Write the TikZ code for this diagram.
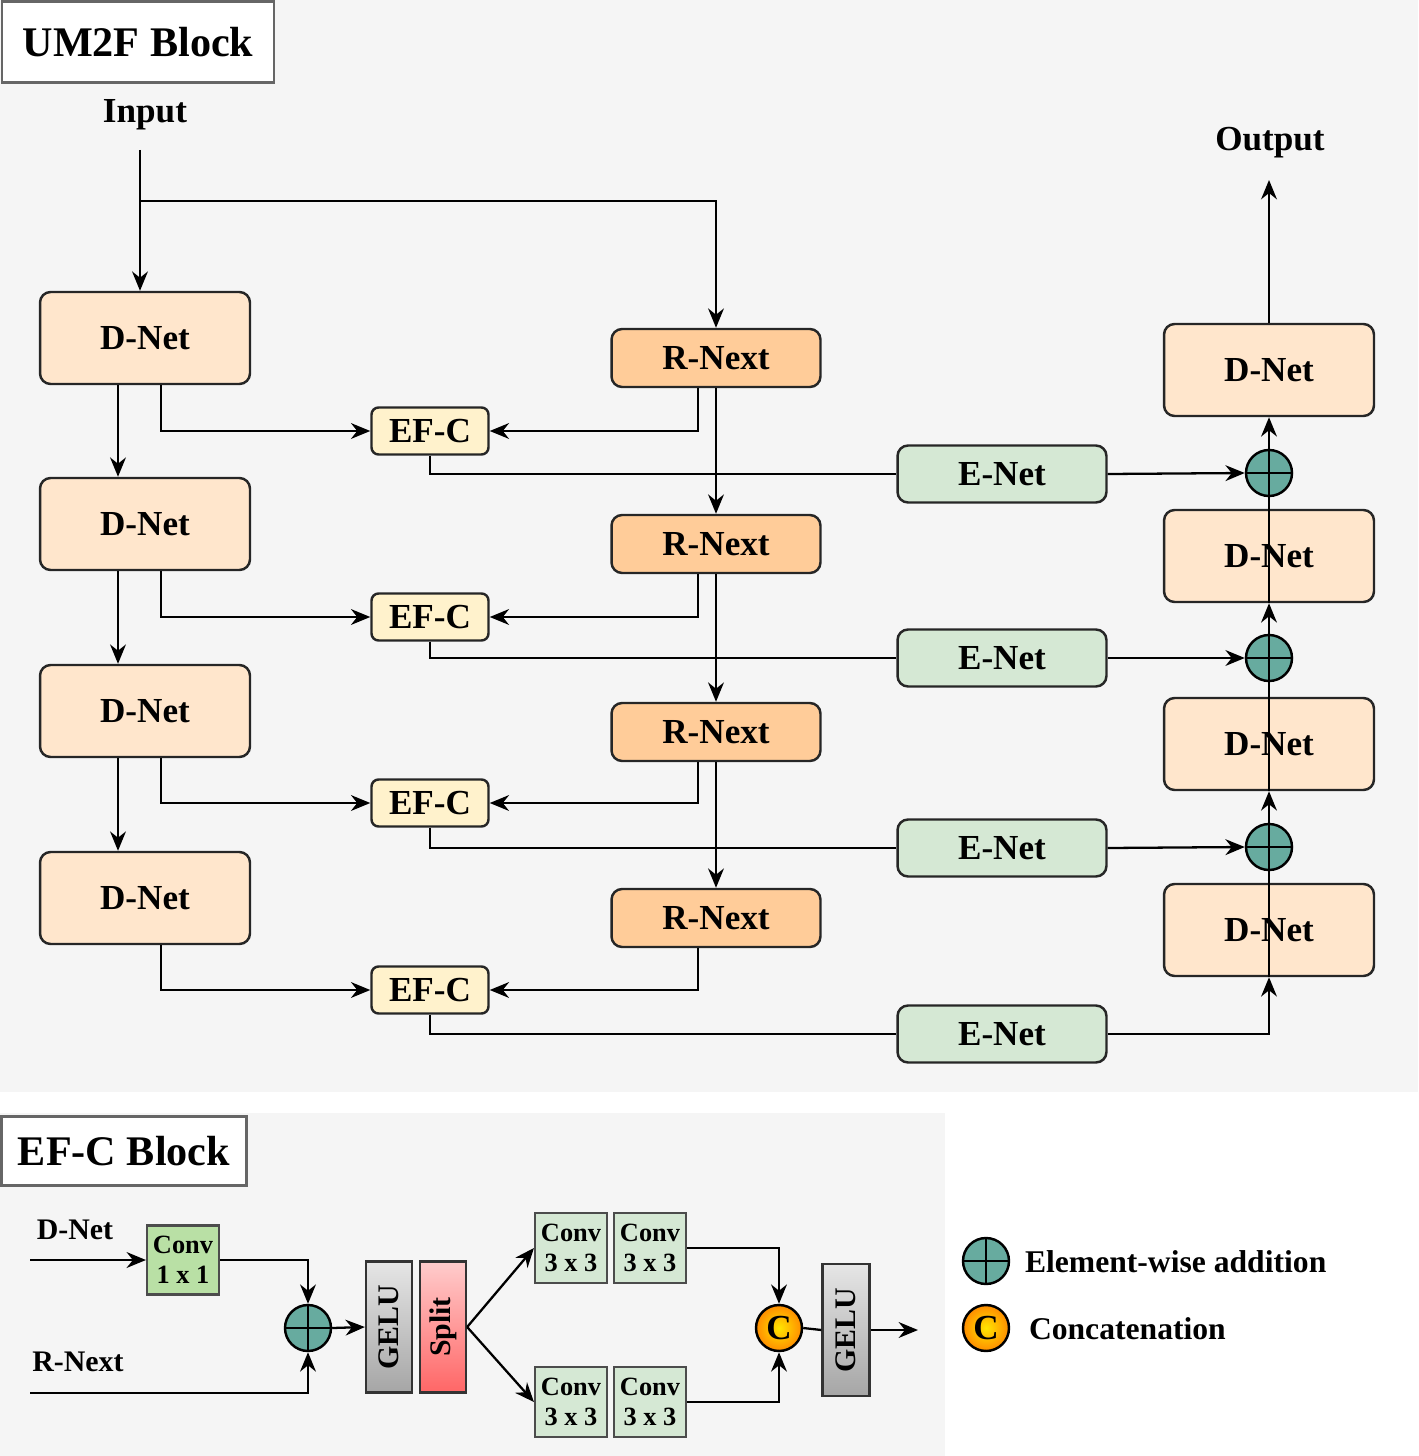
\documentclass[tikz,border=0pt]{standalone}
\usepackage{fontspec}
\setmainfont{Liberation Serif}
\usetikzlibrary{arrows.meta}
\definecolor{dnet}{HTML}{FFE6CC}
\definecolor{rnext}{HTML}{FFCC99}
\definecolor{efc}{HTML}{FFF2CC}
\definecolor{enet}{HTML}{D5E8D4}
\definecolor{plusc}{HTML}{67AB9F}
\definecolor{bg}{HTML}{F5F5F5}
\definecolor{conv1}{HTML}{B9E0A5}
\begin{document}
\begin{tikzpicture}[x=0.02cm,y=-0.02cm,
 line width=1.3pt, >={Stealth[length=11pt,width=9pt]},
 box/.style={draw=black!85,rounded corners=6pt,line width=1.4pt,font=\fontsize{20}{24}\selectfont\bfseries,inner sep=0pt},
 dn/.style={box,fill=dnet,minimum width=4.2cm,minimum height=1.84cm},
 rn/.style={box,fill=rnext,minimum width=4.18cm,minimum height=1.16cm},
 ef/.style={box,fill=efc,rounded corners=4pt,minimum width=2.34cm,minimum height=0.94cm},
 en/.style={box,fill=enet,minimum width=4.18cm,minimum height=1.14cm},
 pl/.style={circle,draw=black,fill=plusc,line width=1.4pt,minimum size=0.92cm,inner sep=0pt,path picture={\draw[line width=1.4pt] (path picture bounding box.north)--(path picture bounding box.south) (path picture bounding box.west)--(path picture bounding box.east);}},
 cc/.style={circle,draw=black,inner color=yellow!80!orange,outer color=orange!90!yellow,line width=1.4pt,minimum size=0.92cm,inner sep=0pt,font=\fontsize{20}{24}\selectfont\bfseries},
 cv/.style={draw=black!70,fill=enet,line width=1.2pt,minimum width=1.44cm,minimum height=1.4cm,inner sep=0pt,align=center,font=\fontsize{15}{17}\selectfont\bfseries},
 tl/.style={font=\fontsize{20}{24}\selectfont\bfseries},
 ttl/.style={draw=black!60,fill=white,line width=1.2pt,font=\fontsize{24}{28}\selectfont\bfseries,inner sep=0pt}]
\useasboundingbox (0,0) rectangle (1418,1456);
\fill[bg] (0,0) rectangle (1418,1092);
\fill[bg] (0,1113) rectangle (945,1456);
\node[ttl,minimum width=5.44cm,minimum height=1.62cm] (t1) at (138,42) {UM2F Block};
\node[tl] (inp) at (145,115) {Input};
\node[tl] (outp) at (1270,143) {Output};
\coordinate (ist) at (140,150);
\coordinate (ibr) at (140,201);
\coordinate (oend) at (1269,180);
% left
\foreach \i/\y in {1/338,2/524,3/711,4/898}{
 \node[dn] (L\i) at (145,\y) {D-Net};}
\foreach \i/\y in {1/358,2/544,3/732,4/918}{
 \node[rn] (R\i) at (716,\y) {R-Next};}
\foreach \i/\y in {1/431,2/617,3/803,4/990}{
 \node[ef] (E\i) at (430,\y) {EF-C};}
\foreach \i/\y in {1/474,2/658,3/848,4/1034}{
 \node[en] (N\i) at (1002,\y) {E-Net};}
\foreach \i/\y in {1/370,2/556,3/744,4/930}{
 \node[dn] (D\i) at (1269,\y) {D-Net};}
\foreach \i/\y in {1/473,2/658,3/847}{
 \node[pl] (P\i) at (1269,\y) {};}
\draw[->] (ist) -- (L1.north -| ist);
\draw[->] (ibr) -| (R1.north);
\foreach \a/\b in {1/2,2/3,3/4}{
 \draw[->] ([xshift=-0.54cm]L\a.south) -- ([xshift=-0.54cm]L\b.north);
 \draw[->] (R\a.south) -- (R\b.north);}
\foreach \i in {1,2,3,4}{
 \draw[->] ([xshift=0.32cm]L\i.south) |- (E\i.west);
 \draw[->] ([xshift=-0.36cm]R\i.south) |- (E\i.east);
 \draw (E\i.south) |- (N\i.west);}
\foreach \i in {1,2,3}{
 \draw[->] (N\i.east) -- (P\i.west);}
\draw[->] (N4.east) -| (D4.south);
\draw (D2.south) -- (P1.south); \draw[->] (P1.north) -- (D1.south);
\draw (D3.south) -- (P2.south); \draw[->] (P2.north) -- (D2.south);
\draw (D4.south) -- (P3.south); \draw[->] (P3.north) -- (D3.south);
\draw[->] (D1.north) -- (oend);
% EF-C block
\node[ttl,minimum width=4.9cm,minimum height=1.38cm] (t2) at (124,1151) {EF-C Block};
\node[tl,font=\fontsize{17}{20}\selectfont\bfseries] (dt) at (75,1230) {D-Net};
\node[tl,font=\fontsize{17}{20}\selectfont\bfseries] (rt) at (78,1362) {R-Next};
\coordinate (ds) at (30,1260);
\coordinate (rs) at (30,1393);
\node[cv,fill=conv1,minimum height=1.38cm] (c11) at (183,1260) {Conv\\1 x 1};
\node[pl] (bp) at (308,1328) {};
\node[draw=black!80,line width=1.3pt,top color=black!10,bottom color=black!35,minimum width=0.92cm,minimum height=2.62cm,inner sep=0pt] (g1) at (389,1327) {\rotatebox{90}{\fontsize{17}{20}\selectfont\bfseries GELU}};
\node[draw=black!80,line width=1.3pt,top color=red!20,bottom color=red!60,minimum width=0.92cm,minimum height=2.62cm,inner sep=0pt] (sp) at (443,1327) {\rotatebox{90}{\fontsize{17}{20}\selectfont\bfseries Split}};
\node[cv] (a1) at (571,1248) {Conv\\3 x 3};
\node[cv] (a2) at (650,1248) {Conv\\3 x 3};
\node[cv] (b1) at (571,1402) {Conv\\3 x 3};
\node[cv] (b2) at (650,1402) {Conv\\3 x 3};
\node[cc] (cat) at (779,1328) {C};
\node[draw=black!80,line width=1.3pt,top color=black!10,bottom color=black!35,minimum width=0.94cm,minimum height=2.64cm,inner sep=0pt] (g2) at (846,1330) {\rotatebox{90}{\fontsize{17}{20}\selectfont\bfseries GELU}};
\coordinate (fo) at (918,1330);
\draw[->] (ds) -- (c11.west);
\draw[->] (c11.east) -| (bp.north);
\draw[->] (rs) -| (bp.south);
\draw[->] (bp.east) -- (g1.west);
\draw[->] (sp.east) -- (a1.west);
\draw[->] (sp.east) -- (b1.west);
\draw[->] (a2.east) -| (cat.north);
\draw[->] (b2.east) -| (cat.south);
\draw (cat.east) -- (g2.west);
\draw[->] (g2.east) -- (fo);
% legend
\node[pl] (lp) at (986,1261) {};
\node[cc] (lc) at (986,1328) {C};
\node[tl,anchor=west,font=\fontsize{18}{21}\selectfont\bfseries] (lt1) at (1018,1262) {Element-wise addition};
\node[tl,anchor=west,font=\fontsize{18}{21}\selectfont\bfseries] (lt2) at (1022,1329) {Concatenation};
\end{tikzpicture}
\end{document}
